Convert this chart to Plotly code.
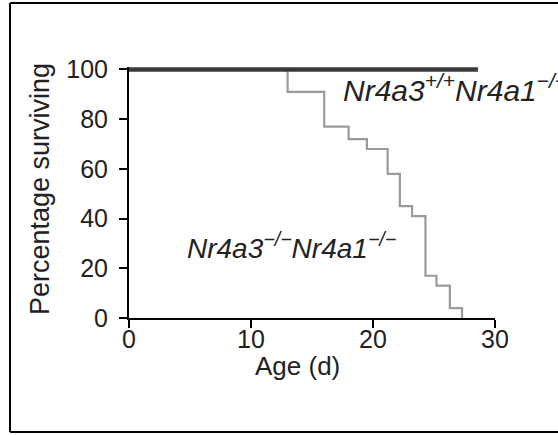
import plotly.graph_objects as go

# Data
wt_age = [0, 28.6]
wt_surv = [100, 100]
ko_age = [0, 13, 16, 18, 19.5, 21.2, 22.2, 23.2, 24.3, 25.2, 26.3, 27.3]
ko_surv = [100, 91, 77, 72, 68, 58, 45, 41, 17, 13, 4, 0]
x_ticks = [0, 10, 20, 30]
y_ticks = [0, 20, 40, 60, 80, 100]

FONT = "Liberation Sans, Arial, sans-serif"
TXT = "#222"

fig = go.Figure()
fig.add_trace(go.Scatter(x=ko_age, y=ko_surv, mode="lines", line_shape="hv",
                         line=dict(color="#9a9a9a", width=2.2), showlegend=False))
fig.add_trace(go.Scatter(x=wt_age, y=wt_surv, mode="lines",
                         line=dict(color="#3a3a3a", width=4.5), showlegend=False))

axis_common = dict(showgrid=False, zeroline=False, showline=True, linecolor="black",
                   linewidth=2, ticks="outside", ticklen=8, tickwidth=2, tickcolor="black",
                   tickfont=dict(family=FONT, size=25, color=TXT))
fig.update_xaxes(range=[0, 30], tickvals=x_ticks, showticklabels=False, **axis_common)
fig.update_yaxes(range=[0, 101], tickvals=y_ticks, ticklabelstandoff=6, **axis_common)

# x tick labels placed just under the ticks
for t in x_ticks:
    fig.add_annotation(text=str(t), xref="x", yref="paper", x=t, y=(318 - 339) / 251,
                       xanchor="center", yanchor="middle", showarrow=False,
                       font=dict(family=FONT, size=25, color=TXT))

fig.add_annotation(text="Age (d)", xref="paper", yref="paper", x=(297 - 129) / 366,
                   y=(318 - 366) / 251, xanchor="center", yanchor="middle", showarrow=False,
                   font=dict(family=FONT, size=26, color=TXT))
fig.add_annotation(text="Percentage surviving", xref="paper", yref="paper",
                   x=(40 - 129) / 366, y=(318 - 189) / 251, xanchor="center", yanchor="middle",
                   textangle=-90, showarrow=False,
                   font=dict(family=FONT, size=27, color=TXT))
fig.add_annotation(text="<i>Nr4a3<sup>−/−</sup>Nr4a1<sup>−/−</sup></i>", xref="x", yref="y",
                   x=13.3, y=29, xanchor="center", yanchor="middle", showarrow=False,
                   font=dict(family=FONT, size=28, color=TXT))
fig.add_annotation(text="<i>Nr4a3<sup>+/+</sup>Nr4a1<sup>−/−</sup></i>", xref="x", yref="y",
                   x=17.4, y=92.5, xanchor="left", yanchor="middle", showarrow=False,
                   font=dict(family=FONT, size=30, color=TXT))

# outer frame (left, top, bottom; right edge lies beyond the picture)
fx0, fx1 = (10 - 129) / 366, 1.3
fy0, fy1 = (318 - 432) / 251, (318 - 3) / 251
for (a, b, c, d) in [(fx0, fy0, fx0, fy1), (fx0, fy1, fx1, fy1), (fx0, fy0, fx1, fy0)]:
    fig.add_shape(type="line", xref="paper", yref="paper", x0=a, y0=b, x1=c, y1=d,
                  line=dict(color="black", width=2))

fig.update_layout(width=558, height=435, margin=dict(l=129, r=63, t=67, b=117),
                  paper_bgcolor="white", plot_bgcolor="white")
fig.write_html("out.html")
